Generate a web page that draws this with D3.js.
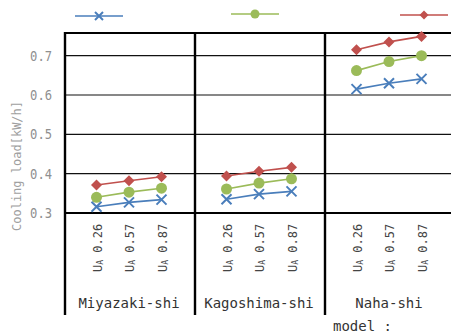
<!DOCTYPE html>
<html><head><meta charset="utf-8">
<script src="https://cdn.jsdelivr.net/npm/d3@7"></script>
<style>body{margin:0;background:#fff}svg{display:block}</style>
</head><body><svg id="c" width="451" height="334"></svg>
<script>
const cities = ["Miyazaki-shi", "Kagoshima-shi", "Naha-shi"];
const models = ["0.26", "0.57", "0.87"];
const seriesBlue  = [[0.316,0.327,0.334],[0.335,0.348,0.355],[0.615,0.630,0.641]];
const seriesGreen = [[0.340,0.353,0.363],[0.361,0.376,0.387],[0.662,0.685,0.700]];
const seriesRed   = [[0.371,0.382,0.392],[0.394,0.406,0.416],[0.715,0.735,0.749]];
const yTicks = [0.3, 0.4, 0.5, 0.6, 0.7];
const yLabel = "Cooling load[kW/h]";
const axisTitle = "model :";

const svg = d3.select("#c");
const mono = "'DejaVu Sans Mono', monospace";
const y = d3.scaleLinear().domain([0.3, 0.7576]).range([213, 33]);
const xc = d3.scaleBand().domain(cities).range([64, 454]).padding(0);
const xm = d3.scalePoint().domain(models).range([0, xc.bandwidth()]).padding(1);

// grid lines
svg.append("g").selectAll("line").data(yTicks.filter(d => d > 0.3)).join("line")
  .attr("x1", 64).attr("x2", 451).attr("y1", d => y(d)).attr("y2", d => y(d))
  .attr("stroke", "#111").attr("stroke-width", 1.2);
// top border
svg.append("line").attr("x1", 64).attr("x2", 451).attr("y1", 33).attr("y2", 33)
  .attr("stroke", "#000").attr("stroke-width", 2.2);
// bottom axis line
svg.append("line").attr("x1", 64).attr("x2", 451).attr("y1", y(0.3)).attr("y2", y(0.3))
  .attr("stroke", "#000").attr("stroke-width", 2.2);
// vertical panel lines
svg.append("g").selectAll("line").data(cities).join("line")
  .attr("x1", d => xc(d) + 1).attr("x2", d => xc(d) + 1).attr("y1", 32).attr("y2", 315)
  .attr("stroke", "#000").attr("stroke-width", 2.4);

// y tick labels
svg.append("g").selectAll("text").data(yTicks).join("text")
  .attr("transform", d => `translate(52,${y(d)}) scale(0.9,1)`)
  .attr("dy", "0.36em").attr("text-anchor", "end")
  .attr("font-family", mono).attr("font-size", 13.5).attr("fill", "#8f8f8f")
  .text(d => d.toFixed(1));
// y label
svg.append("text").attr("transform", "translate(21,166) rotate(-90)")
  .attr("text-anchor", "middle").attr("font-family", mono).attr("font-size", 12)
  .attr("fill", "#a0a0a0").text(yLabel);

// category tick labels
cities.forEach(c => {
  models.forEach(m => {
    const t = svg.append("text")
      .attr("transform", `translate(${xc(c) + xm(m) + 5},272) rotate(-90)`)
      .attr("font-family", mono).attr("font-size", 12).attr("fill", "#444");
    t.append("tspan").text("U");
    t.append("tspan").attr("font-size", 8).attr("dy", 1).text("A");
    t.append("tspan").attr("dy", -1).text(" " + m);
  });
  svg.append("text").attr("x", xc(c) + xc.bandwidth() / 2).attr("y", 308)
    .attr("text-anchor", "middle").attr("font-family", mono).attr("font-size", 14)
    .attr("fill", "#333").text(c);
});
svg.append("text").attr("x", 333).attr("y", 331).attr("font-family", mono)
  .attr("font-size", 14).attr("fill", "#333").text(axisTitle);

// series
const line = d3.line().x(d => d[0]).y(d => d[1]);
function pts(arr, ci) { return models.map((m, i) => [xc(cities[ci]) + xm(m), y(arr[ci][i])]); }
const series = [
  {data: seriesBlue, color: "#4a7ebb", marker: "x"},
  {data: seriesGreen, color: "#9bbb59", marker: "circle"},
  {data: seriesRed, color: "#c0504d", marker: "diamond"}
];
function drawMarker(g, s, x0, y0) {
  if (s.marker === "x") {
    g.append("path").attr("d", `M${x0-5},${y0-5}L${x0+5},${y0+5}M${x0-5},${y0+5}L${x0+5},${y0-5}`)
      .attr("stroke", s.color).attr("stroke-width", 2).attr("fill", "none");
  } else if (s.marker === "circle") {
    g.append("circle").attr("cx", x0).attr("cy", y0).attr("r", 5.5).attr("fill", s.color);
  } else {
    g.append("path").attr("d", `M${x0},${y0-5.5}L${x0+5.5},${y0}L${x0},${y0+5.5}L${x0-5.5},${y0}Z`)
      .attr("fill", s.color);
  }
}
series.forEach(s => {
  const g = svg.append("g");
  cities.forEach((c, ci) => {
    const p = pts(s.data, ci);
    g.append("path").attr("d", line(p)).attr("fill", "none")
      .attr("stroke", s.color).attr("stroke-width", 1.6);
    p.forEach(q => drawMarker(g, s, q[0], q[1]));
  });
});

// legend
const legendPos = [[75, 16], [231, 14], [400, 15]];
series.forEach((s, i) => {
  const [lx, ly] = legendPos[i];
  const g = svg.append("g");
  g.append("line").attr("x1", lx).attr("x2", lx + 48).attr("y1", ly).attr("y2", ly)
    .attr("stroke", s.color).attr("stroke-width", 1.6);
  if (s.marker === "x") {
    g.append("path").attr("d", `M${lx+20},${ly-4}L${lx+28},${ly+4}M${lx+20},${ly+4}L${lx+28},${ly-4}`)
      .attr("stroke", s.color).attr("stroke-width", 2);
  } else if (s.marker === "circle") {
    g.append("circle").attr("cx", lx + 24).attr("cy", ly).attr("r", 4.5).attr("fill", s.color);
  } else {
    g.append("path").attr("d", `M${lx+24},${ly-4.5}L${lx+28.5},${ly}L${lx+24},${ly+4.5}L${lx+19.5},${ly}Z`).attr("fill", s.color);
  }
});
</script></body></html>
